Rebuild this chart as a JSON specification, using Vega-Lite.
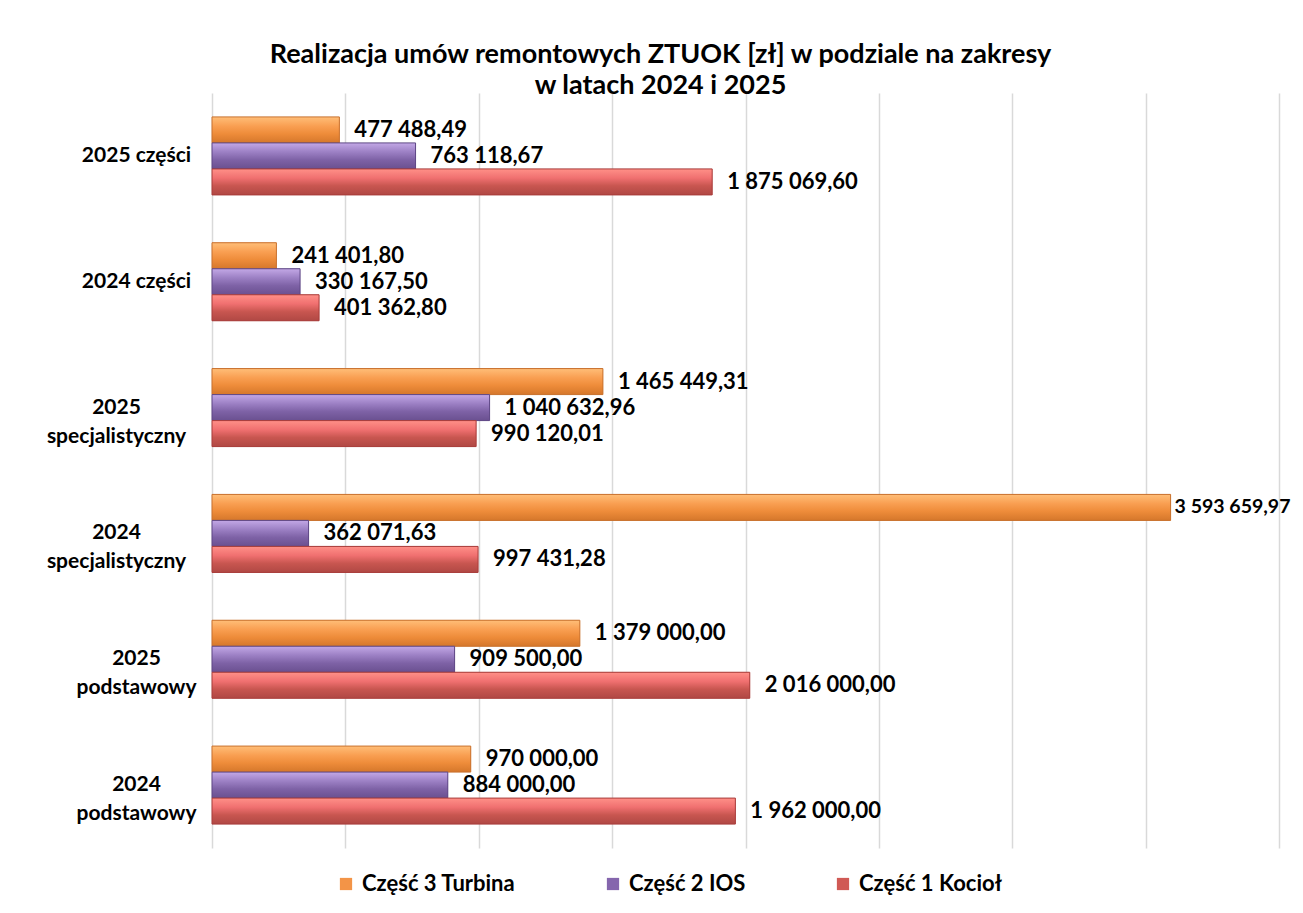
{
  "$schema": "https://vega.github.io/schema/vega-lite/v6.json",
  "width": 1067,
  "height": 755,
  "autosize": "none",
  "padding": {"left": 212, "top": 93, "right": 24, "bottom": 65},
  "background": "white",
  "config": {
    "locale": {"number": {"decimal": ",", "thousands": " ", "grouping": [3], "currency": ["", " zł"]}},
    "view": {"stroke": null},
    "font": "Lato"
  },
  "title": {
    "text": ["Realizacja umów remontowych ZTUOK [zł] w podziale na zakresy", "w latach 2024 i 2025"],
    "fontSize": 27,
    "font": "Lato",
    "fontWeight": "bold",
    "color": "#000000",
    "anchor": "middle",
    "dx": -85,
    "offset": -7,
    "lineHeight": 31
  },
  "data": {
    "values": [
      {"kat": "2025 części", "seria": "Część 3 Turbina", "wartosc": 477488.49},
      {"kat": "2025 części", "seria": "Część 2 IOS", "wartosc": 763118.67},
      {"kat": "2025 części", "seria": "Część 1 Kocioł", "wartosc": 1875069.60},
      {"kat": "2024 części", "seria": "Część 3 Turbina", "wartosc": 241401.80},
      {"kat": "2024 części", "seria": "Część 2 IOS", "wartosc": 330167.50},
      {"kat": "2024 części", "seria": "Część 1 Kocioł", "wartosc": 401362.80},
      {"kat": "2025 specjalistyczny", "seria": "Część 3 Turbina", "wartosc": 1465449.31},
      {"kat": "2025 specjalistyczny", "seria": "Część 2 IOS", "wartosc": 1040632.96},
      {"kat": "2025 specjalistyczny", "seria": "Część 1 Kocioł", "wartosc": 990120.01},
      {"kat": "2024 specjalistyczny", "seria": "Część 3 Turbina", "wartosc": 3593659.97},
      {"kat": "2024 specjalistyczny", "seria": "Część 2 IOS", "wartosc": 362071.63},
      {"kat": "2024 specjalistyczny", "seria": "Część 1 Kocioł", "wartosc": 997431.28},
      {"kat": "2025 podstawowy", "seria": "Część 3 Turbina", "wartosc": 1379000.00},
      {"kat": "2025 podstawowy", "seria": "Część 2 IOS", "wartosc": 909500.00},
      {"kat": "2025 podstawowy", "seria": "Część 1 Kocioł", "wartosc": 2016000.00},
      {"kat": "2024 podstawowy", "seria": "Część 3 Turbina", "wartosc": 970000.00},
      {"kat": "2024 podstawowy", "seria": "Część 2 IOS", "wartosc": 884000.00},
      {"kat": "2024 podstawowy", "seria": "Część 1 Kocioł", "wartosc": 1962000.00}
    ]
  },
  "encoding": {
    "y": {
      "field": "kat",
      "type": "nominal",
      "sort": ["2025 części", "2024 części", "2025 specjalistyczny", "2024 specjalistyczny", "2025 podstawowy", "2024 podstawowy"],
      "scale": {"paddingInner": 0.38, "paddingOuter": 0.19},
      "axis": {
        "title": null,
        "ticks": false,
        "domain": false,
        "labelAlign": "center",
        "labelPadding": {"condition": {"test": "indexof(datum.value, 'specjalistyczny') >= 0", "value": 96}, "value": 76},
        "labelFontSize": 21,
        "labelFontWeight": "bold",
        "labelColor": "#000000",
        "labelLineHeight": 29,
        "labelExpr": "length(datum.label) > 12 ? split(datum.label, ' ') : datum.label"
      }
    },
    "yOffset": {
      "field": "seria",
      "type": "nominal",
      "sort": ["Część 3 Turbina", "Część 2 IOS", "Część 1 Kocioł"],
      "scale": {"paddingInner": 0, "paddingOuter": 0}
    },
    "x": {
      "field": "wartosc",
      "type": "quantitative",
      "scale": {"domain": [0, 4000000], "nice": false},
      "axis": {
        "title": null,
        "labels": false,
        "ticks": false,
        "domain": false,
        "grid": true,
        "gridColor": "#d9d9d9",
        "gridWidth": 1.5,
        "values": [0, 500000, 1000000, 1500000, 2000000, 2500000, 3000000, 3500000, 4000000]
      }
    }
  },
  "layer": [
    {
      "mark": {"type": "bar"},
      "encoding": {
        "fill": {
          "field": "seria",
          "type": "nominal",
          "scale": {
            "domain": ["Część 3 Turbina", "Część 2 IOS", "Część 1 Kocioł"],
            "range": ["#F39447", "#8566AD", "#D05A55"]
          },
          "legend": {
            "title": null,
            "orient": "none",
            "direction": "horizontal",
            "legendX": 123,
            "legendY": 780,
            "symbolType": "square",
            "symbolSize": 150,
            "symbolStrokeWidth": 0,
            "labelFontSize": 22,
            "labelFontWeight": "bold",
            "labelColor": "#000000",
            "columnPadding": 86,
            "labelOffset": 5
          }
        }
      }
    },
    {
      "mark": {"type": "bar", "strokeWidth": 1},
      "encoding": {
        "fill": {
          "condition": [
            {"test": "datum.seria === 'Część 3 Turbina'", "value": {"gradient": "linear", "x1": 0, "y1": 0, "x2": 0, "y2": 1, "stops": [{"offset": 0, "color": "#FFBE78"}, {"offset": 0.35, "color": "#F99F52"}, {"offset": 0.65, "color": "#EE8C3A"}, {"offset": 1, "color": "#D5772B"}]}},
            {"test": "datum.seria === 'Część 2 IOS'", "value": {"gradient": "linear", "x1": 0, "y1": 0, "x2": 0, "y2": 1, "stops": [{"offset": 0, "color": "#C3A8E6"}, {"offset": 0.35, "color": "#9C80C4"}, {"offset": 0.65, "color": "#7E62A6"}, {"offset": 1, "color": "#6A5090"}]}}
          ],
          "value": {"gradient": "linear", "x1": 0, "y1": 0, "x2": 0, "y2": 1, "stops": [{"offset": 0, "color": "#FF9088"}, {"offset": 0.35, "color": "#F07070"}, {"offset": 0.65, "color": "#C85650"}, {"offset": 1, "color": "#B04844"}]}
        },
        "stroke": {
          "field": "seria",
          "type": "nominal",
          "scale": {
            "domain": ["Część 3 Turbina", "Część 2 IOS", "Część 1 Kocioł"],
            "range": ["#C8712E", "#5E4785", "#A83C3A"]
          },
          "legend": null
        }
      }
    },
    {
      "mark": {"type": "text", "align": "left", "baseline": "middle", "dx": {"expr": "datum.wartosc > 3000000 ? 4 : 15"}, "fontSize": {"expr": "datum.wartosc > 3000000 ? 19.5 : 22"}, "fontWeight": "bold", "color": "#000000"},
      "encoding": {
        "text": {"field": "wartosc", "type": "quantitative", "format": ",.2f"}
      }
    }
  ]
}
